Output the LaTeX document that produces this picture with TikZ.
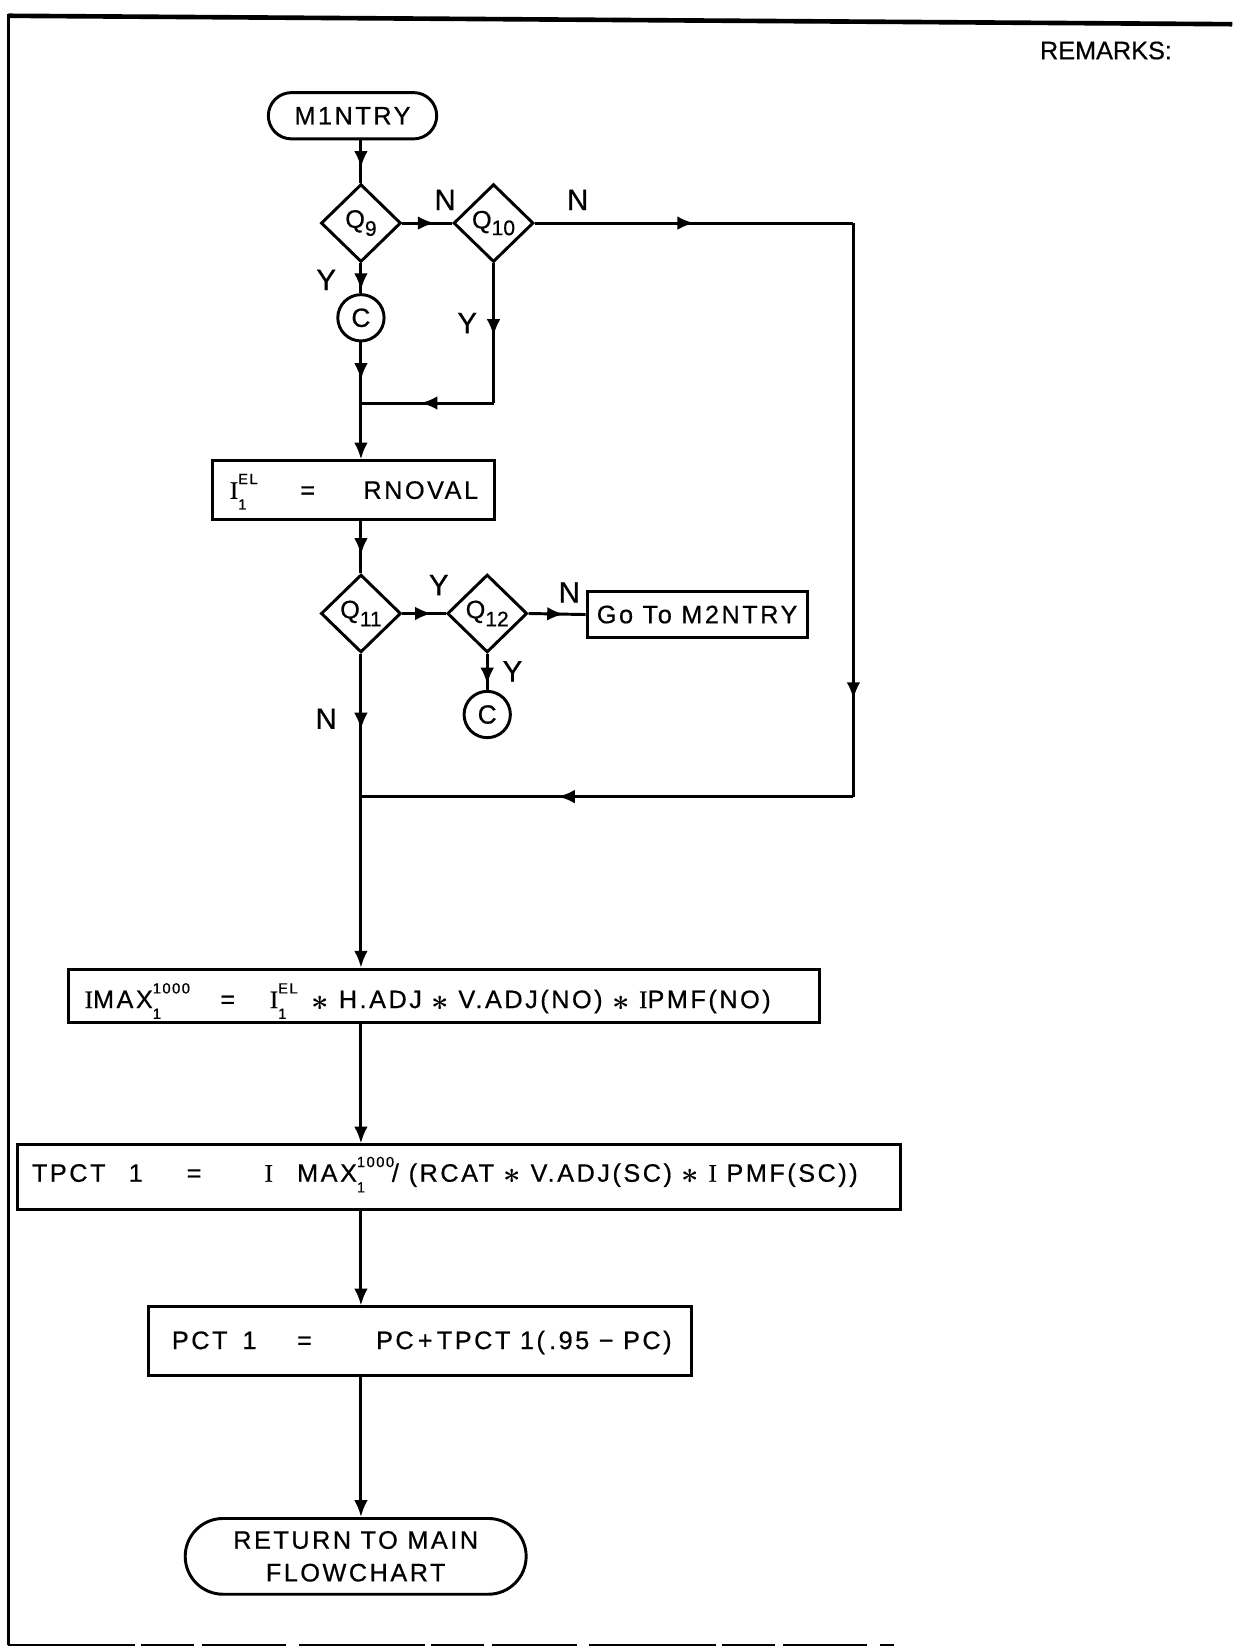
\documentclass[tikz,border=0pt]{standalone}
\usepackage{fontspec}
\setmainfont{Liberation Sans}
\newfontfamily\serifI[FakeBold=0.6]{Liberation Serif}
\newfontfamily\widefont[LetterSpace=10,FakeBold=0.6]{Liberation Sans}
\newfontfamily\plainfont[FakeBold=0.6]{Liberation Sans}
\usetikzlibrary{shapes.geometric,arrows.meta,decorations.markings}
\newcommand\Ir{{\serifI I}}
\newcommand\mysupsub[2]{\makebox[0pt][l]{\raisebox{1.1ex}{\fontsize{7}{7}\selectfont #1}}\raisebox{-0.8ex}{\fontsize{7}{7}\selectfont #2}}
\newcommand\st{\raisebox{-0.15ex}{\fontsize{15}{15}\selectfont\boldmath$\ast$}}
\begin{document}
\begin{tikzpicture}[x=0.5pt,y=-0.5pt,
  ln/.style={line width=1.4pt},
  box/.style={draw, line width=1.4pt, inner sep=0pt},
  dia/.style={draw, diamond, line width=1.4pt, inner sep=0pt, minimum width=38pt, minimum height=37pt, font=\plainfont\fontsize{12}{12}\selectfont},
  conn/.style={draw, circle, line width=1.4pt, minimum size=22pt, inner sep=0pt, font=\plainfont\fontsize{12.5}{12}\selectfont},
  lbl/.style={font=\plainfont\fontsize{14}{14}\selectfont, inner sep=0pt},
  txt/.style={font=\widefont\fontsize{12}{14}\selectfont, inner sep=0pt, anchor=base west},
  ma/.style={postaction={decorate}, decoration={markings, mark=at position #1 with {\arrow{Latex[length=8pt,width=6.5pt]}}}},
  ea/.style={-{Latex[length=8pt,width=6.5pt]}}]
\useasboundingbox (0,0) rectangle (1171,1568);
% frame
\draw[line width=2.2pt] (8,15) -- (1171,23);
\draw[line width=1.2pt] (8,13) -- (8,1563);
\draw[line width=1pt, dash pattern=on 60pt off 3pt on 25pt off 4pt on 40pt off 6pt] (8,1563) -- (850,1563);
\node[font=\plainfont\fontsize{12}{14}\selectfont, inner sep=0pt] (rem) at (1051,48) {REMARKS:};
% nodes
\node[box, rounded corners=11pt, minimum width=80pt, minimum height=22pt, font=\widefont\fontsize{12}{14}\selectfont] (start) at (335,110) {M1NTRY};
\node[dia] (q9) at (343,212) {Q\raisebox{-0.6ex}{\fontsize{10}{10}\selectfont 9}};
\node[dia] (q10) at (469,212) {Q\raisebox{-0.5ex}{\fontsize{10}{10}\selectfont 10}};
\node[conn] (c1) at (343,302) {C};
\node[box, minimum width=134pt, minimum height=28pt] (box1) at (336,466) {};
\node[dia] (q11) at (343,583) {Q\raisebox{-0.6ex}{\fontsize{10}{10}\selectfont 11}};
\node[dia] (q12) at (463,583) {Q\raisebox{-0.6ex}{\fontsize{10}{10}\selectfont 12}};
\node[box, minimum width=104.5pt, minimum height=21.5pt, font=\widefont\fontsize{12}{14}\selectfont] (goto) at (662.5,584) {Go To M2NTRY};
\node[conn] (c2) at (463,679) {C};
\node[box, minimum width=357pt, minimum height=25.5pt] (imax) at (422,946.5) {};
\node[box, minimum width=419.5pt, minimum height=30.5pt] (tpct) at (436.5,1118.5) {};
\node[box, minimum width=258pt, minimum height=32.5pt] (pct) at (399,1274.5) {};
\node[box, rounded corners=18pt, minimum width=162pt, minimum height=36pt, align=center, font=\widefont\fontsize{12}{15.5}\selectfont] (ret) at (338,1479) {RETURN TO MAIN\\FLOWCHART};
% box texts
\node[txt] (t1a) at (218,474) {\Ir\mysupsub{EL}{1}};
\node[txt] (t1b) at (285,474) {=};
\node[txt] (t1c) at (345,474) {RNOVAL};
\node[txt] (t2a) at (80,958) {\Ir MAX\mysupsub{1000}{1}};
\node[txt] (t2b) at (209,958) {=};
\node[txt] (t2c) at (256,958) {\Ir\mysupsub{EL}{1}};
\node[txt] (t2d) at (296,958) {\st\ H.ADJ \st\ V.ADJ(NO) \st\ \Ir PMF(NO)};
\node[txt] (t3a) at (30,1123) {TPCT};
\node[txt] (t3b) at (122,1123) {1};
\node[txt] (t3c) at (177,1123) {=};
\node[txt] (t3d) at (251,1123) {\Ir};
\node[txt] (t3e) at (282,1123) {MAX\mysupsub{1000}{1}};
\node[txt] (t3s) at (372,1123) {/};
\node[txt] (t3f) at (388,1123) {(RCAT \st\ V.ADJ(SC) \st\ \Ir\ PMF(SC))};
\node[txt] (t4a) at (163,1282) {PCT};
\node[txt] (t4b) at (230,1282) {1};
\node[txt] (t4c) at (282,1282) {=};
\node[txt] (t4d) at (357,1282) {PC\,+\,TPCT 1(\,.95 − PC)};
% labels
\node[lbl] (n1) at (423,190) {N};
\node[lbl] (n2) at (549,190) {N};
\node[lbl] (y1) at (310,266) {Y};
\node[lbl] (y2) at (444,307) {Y};
\node[lbl] (y3) at (417,556) {Y};
\node[lbl] (n3) at (541,563) {N};
\node[lbl] (y4) at (487,638) {Y};
\node[lbl] (n4) at (310,683) {N};
% junctions
\coordinate (j1) at (343,383);
\coordinate (r0) at (469,383);
\coordinate (r1) at (811,212);
\coordinate (r2) at (811,757);
\coordinate (j2) at (343,757);
% connectors
\draw[ln, ma=0.65] (start.south -| q9.north) -- (q9.north);
\draw[ln, ma=0.65] (q9.east) -- (q10.west);
\draw[ln, ma=0.5] (q10.east) -- (r1);
\draw[ln, ma=0.83] (r1) -- (r2);
\draw[ln, ma=0.6] (r2) -- (j2);
\draw[ln, ma=0.9] (q9.south) -- (c1.north);
\draw[ln, ma=0.62] (c1.south) -- (j1);
\draw[ln, ma=0.52] (q10.south) -- (r0);
\draw[ln, ma=0.55] (r0) -- (j1);
\draw[ln, ea] (j1) -- (box1.north -| j1);
\draw[ln, ma=0.65] (box1.south -| j1) -- (q11.north);
\draw[ln, ma=0.68] (q11.east) -- (q12.west);
\draw[ln, ma=0.62] (q12.east) -- (goto.west);
\draw[ln, ma=0.85] (q12.south) -- (c2.north);
\draw[ln, ma=0.53] (q11.south) -- (j2);
\draw[ln, ea] (j2) -- (imax.north -| j2);
\draw[ln, ea] (imax.south -| j2) -- (tpct.north -| j2);
\draw[ln, ea] (tpct.south -| j2) -- (pct.north -| j2);
\draw[ln, ea] (pct.south -| j2) -- (ret.north -| j2);
\end{tikzpicture}
\end{document}
